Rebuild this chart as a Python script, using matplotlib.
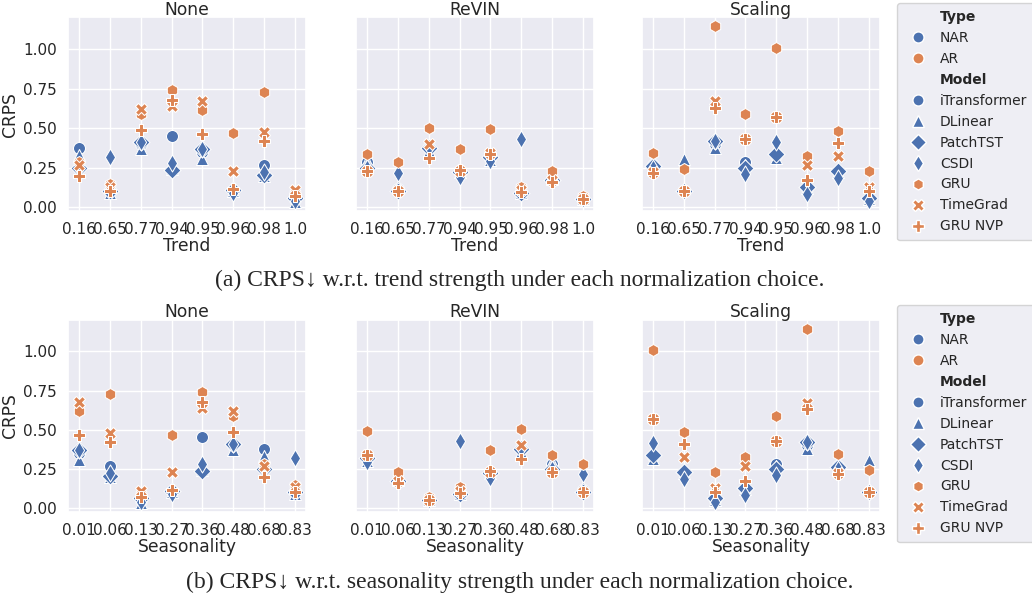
import numpy as np
import matplotlib
matplotlib.use("Agg")
import matplotlib.pyplot as plt
from matplotlib.lines import Line2D
from matplotlib.ticker import MultipleLocator, FormatStrFormatter
import seaborn as sns

sns.set_theme(style="darkgrid")
plt.rcParams['font.family'] = ['DejaVu Sans']

# datasets in trend order, with their seasonality strength
trend = ["0.16", "0.65", "0.77", "0.94", "0.95", "0.96", "0.98", "1.0"]
season = ["0.68", "0.83", "0.48", "0.36", "0.01", "0.27", "0.06", "0.13"]

models = ["iTransformer", "DLinear", "PatchTST", "CSDI", "GRU", "TimeGrad", "GRU NVP"]
model_type = ["NAR", "NAR", "NAR", "NAR", "AR", "AR", "AR"]
markers = ["o", "^", "D", "d", "h", "X", "P"]
norms = ["None", "ReVIN", "Scaling"]

# CRPS per model, datasets in trend order
crps_none = {
    "iTransformer": [0.377, 0.10, 0.40, 0.45, 0.35, 0.11, 0.268, 0.05],
    "DLinear":      [0.33, 0.09, 0.367, 0.24, 0.308, 0.10, 0.20, 0.03],
    "PatchTST":     [0.25, 0.10, 0.41, 0.237, 0.367, 0.11, 0.205, 0.06],
    "CSDI":         [0.25, 0.32, 0.41, 0.277, 0.37, 0.09, 0.22, 0.04],
    "GRU":          [0.283, 0.147, 0.59, 0.74, 0.618, 0.467, 0.727, 0.09],
    "TimeGrad":     [0.27, 0.13, 0.62, 0.64, 0.675, 0.226, 0.476, 0.11],
    "GRU NVP":      [0.20, 0.10, 0.486, 0.677, 0.463, 0.115, 0.42, 0.07],
}
crps_revin = {
    "iTransformer": [0.283, 0.115, 0.38, 0.23, 0.31, 0.09, 0.18, 0.05],
    "DLinear":      [0.29, 0.136, 0.356, 0.22, 0.30, 0.09, 0.18, 0.05],
    "PatchTST":     [0.25, 0.10, 0.377, 0.22, 0.32, 0.09, 0.17, 0.05],
    "CSDI":         [0.25, 0.216, 0.38, 0.19, 0.29, 0.43, 0.18, 0.05],
    "GRU":          [0.335, 0.283, 0.503, 0.367, 0.493, 0.13, 0.226, 0.07],
    "TimeGrad":     [0.23, 0.10, 0.40, 0.23, 0.34, 0.11, 0.17, 0.05],
    "GRU NVP":      [0.226, 0.10, 0.31, 0.237, 0.335, 0.094, 0.16, 0.052],
}
crps_scaling = {
    "iTransformer": [0.27, 0.10, 0.40, 0.283, 0.33, 0.12, 0.23, 0.05],
    "DLinear":      [0.27, 0.304, 0.377, 0.27, 0.31, 0.12, 0.22, 0.05],
    "PatchTST":     [0.26, 0.10, 0.42, 0.25, 0.335, 0.126, 0.23, 0.06],
    "CSDI":         [0.25, 0.10, 0.42, 0.21, 0.413, 0.084, 0.182, 0.04],
    "GRU":          [0.342, 0.241, 1.147, 0.59, 1.01, 0.325, 0.482, 0.226],
    "TimeGrad":     [0.22, 0.10, 0.67, 0.43, 0.57, 0.268, 0.325, 0.125],
    "GRU NVP":      [0.216, 0.10, 0.629, 0.43, 0.57, 0.172, 0.405, 0.10],
}
crps = [crps_none, crps_revin, crps_scaling]

palette = {"NAR": "#4C72B0", "AR": "#DD8452"}

fig = plt.figure(figsize=(10.32, 6.0), dpi=100)

lefts = [0.0659, 0.345, 0.622]
width = 0.2306
rows = [(0.648, 0.323, trend, "Trend"), (0.147, 0.320, season, "Seasonality")]


def legend_handles():
    h, l = [], []
    h.append(Line2D([], [], ls="", marker="")); l.append("Type")
    for t in ["NAR", "AR"]:
        h.append(Line2D([], [], ls="", marker="o", color=palette[t], mec="w", ms=8)); l.append(t)
    h.append(Line2D([], [], ls="", marker="")); l.append("Model")
    for m, t, mk in zip(models, model_type, markers):
        h.append(Line2D([], [], ls="", marker=mk, color=palette[t], mec="w", ms=8)); l.append(m)
    return h, l


for r, (y0, h, xvals, xlabel) in enumerate(rows):
    order = sorted(range(len(xvals)), key=lambda i: float(xvals[i]))
    cats = [xvals[i] for i in order]
    first = None
    for c, norm in enumerate(norms):
        ax = fig.add_axes([lefts[c], y0, width, h], sharey=first)
        if first is None:
            first = ax
        # register category order
        ax.plot(cats, [np.nan] * len(cats), ls="")
        for m, t, mk in zip(models, model_type, markers):
            vals = [crps[c][m][i] for i in order]
            ax.scatter(cats, vals, marker=mk, s=75, color=palette[t],
                       edgecolor="w", linewidth=0.75, zorder=3)
        ax.set_title(norm, fontsize=12.3, pad=2)
        ax.set_xlabel(xlabel, fontsize=12.3, labelpad=0)
        ax.tick_params(axis="x", labelsize=11, pad=2)
        ax.tick_params(axis="y", labelsize=11, pad=2)
        ax.yaxis.set_major_locator(MultipleLocator(0.25))
        ax.yaxis.set_major_formatter(FormatStrFormatter("%.2f"))
        if c == 0:
            ax.set_ylabel("CRPS", fontsize=12.3, labelpad=3)
        else:
            ax.tick_params(axis="y", labelleft=False)
    hs, ls = legend_handles()
    leg = fig.legend(hs, ls, loc="upper left",
                     bbox_to_anchor=(0.869, 1 - (3 + r * 302) / 600),
                     borderaxespad=0,
                     fontsize=10, frameon=True, handletextpad=0.6,
                     labelspacing=0.5, borderpad=0.5)
    for txt in leg.get_texts():
        if txt.get_text() in ("Type", "Model"):
            txt.set_fontweight("bold")

serif = ["Liberation Serif", "DejaVu Serif"]
fig.text(0.504, 0.533, "(a) CRPS\u2193 w.r.t. trend strength under each normalization choice.",
         ha="center", va="center", fontsize=17, family=serif)
fig.text(0.504, 0.030, "(b) CRPS\u2193 w.r.t. seasonality strength under each normalization choice.",
         ha="center", va="center", fontsize=17, family=serif)

fig.savefig("out.png", dpi=100)
